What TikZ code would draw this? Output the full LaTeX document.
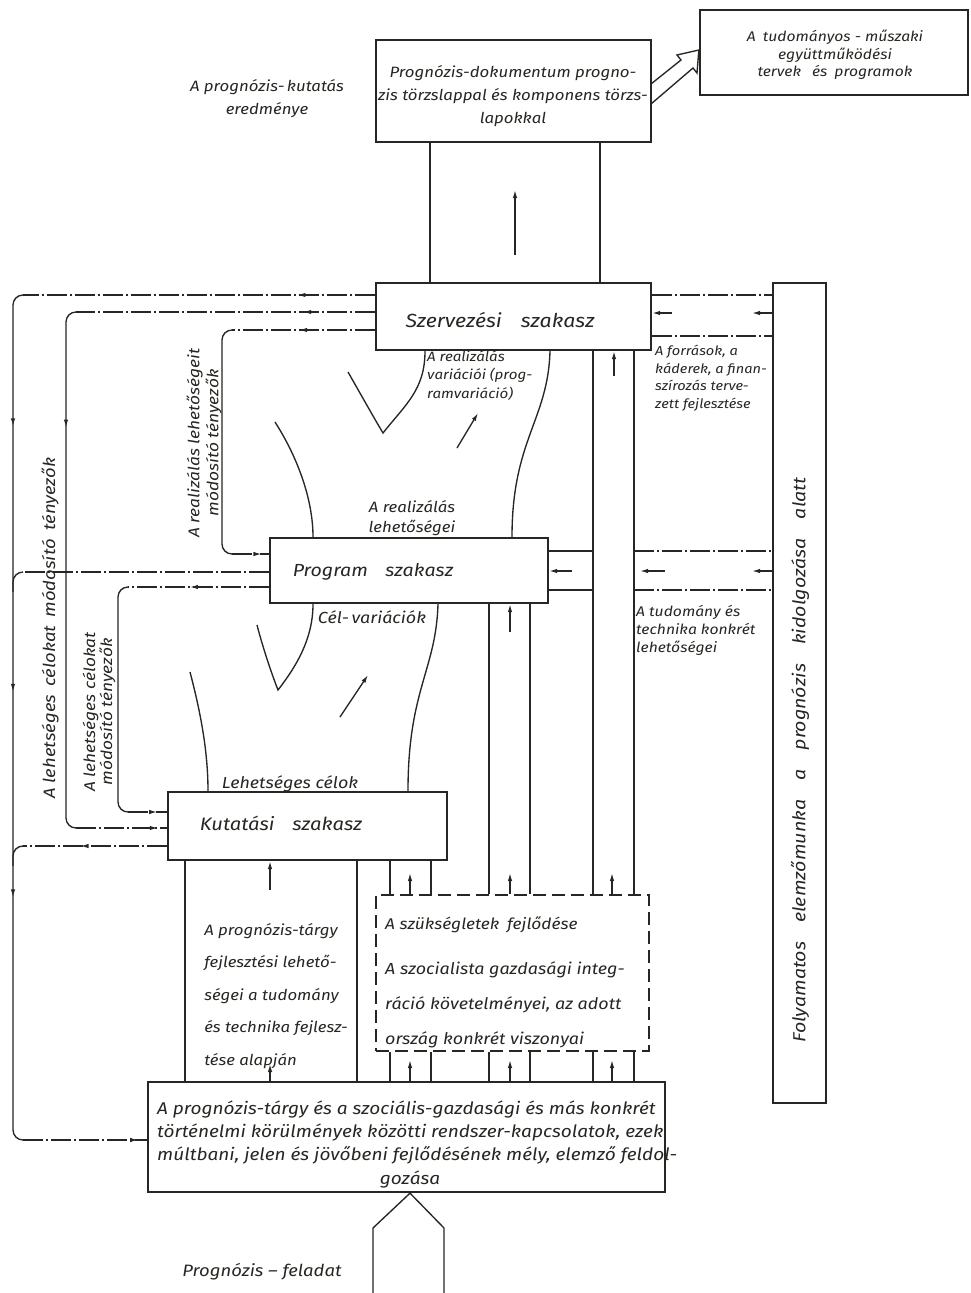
\documentclass[tikz,border=0pt]{standalone}
\usepackage{fontspec}
\setmainfont{Fira Sans}[FakeStretch=1.12]
\usetikzlibrary{arrows.meta,decorations.markings}
\definecolor{ink}{RGB}{38,38,34}
\newcommand\hfs[2]{\itshape\fontsize{#1}{#2}\selectfont}
\begin{document}
\begin{tikzpicture}[x=1pt,y=-1pt,
  box/.style={draw=ink,line width=2.3pt,inner sep=0pt},
  dbox/.style={draw=ink,line width=1.9pt,inner sep=0pt,dash pattern=on 13pt off 6pt},
  ln/.style={draw=ink,line width=1.35pt},
  dd/.style={ln,dash pattern=on 20pt off 3pt on 2pt off 3pt},
  tip/.style={-{Latex[length=8pt,width=4.5pt]}},
  ma/.style={postaction={decorate,decoration={markings,mark=at position #1 with {\arrow{Latex[length=8pt,width=4.5pt]}}}}},
  txt/.style={inner sep=0pt,text=ink,font=\hfs{15}{23}},
  rot/.style={inner sep=0pt,text=ink,rotate=90},
]
\fill[white] (0,0) rectangle (971,1293);
\useasboundingbox (0,0) rectangle (971,1293);

% ---------- boxes ----------
\node[box,minimum width=275pt,minimum height=102pt] (doc) at (513.5,91) {};
\node[box,minimum width=268pt,minimum height=85pt] (coop) at (834,52.5) {};
\node[box,minimum width=275pt,minimum height=67pt] (szerv) at (513.5,316.5) {};
\node[box,minimum width=278pt,minimum height=65pt] (prog) at (409,570.5) {};
\node[box,minimum width=279pt,minimum height=68pt] (kut) at (307.5,826) {};
\node[box,minimum width=53pt,minimum height=820pt] (tall) at (799.5,693) {};
\node[dbox,minimum width=273pt,minimum height=156pt] (needs) at (512.5,973) {};
\node[box,minimum width=517pt,minimum height=110pt] (base) at (406.5,1137) {};

% ---------- texts ----------
\node[txt,align=center] (docT) at (513,96) {Prognózis-dokumentum progno-\\zis törzslappal és komponens törzs-\\lapokkal};
\node[txt,align=center,font=\hfs{14}{17.5}] (coopT) at (835,55) {A\enspace tudományos - műszaki\\együttműködési\\tervek\enspace\ és\enspace programok};
\node[txt,align=center] (resT) at (267,99) {A prognózis-\,kutatás\\eredménye};
\node[txt,font=\hfs{19}{23}] (szervT) at (500,320) {Szervezési\quad szakasz};
\node[txt,font=\hfs{17.5}{23}] (progT) at (373,572) {Program\quad szakasz};
\node[txt,font=\hfs{18}{23}] (kutT) at (281,823) {Kutatási\quad szakasz};
\node[rot,font=\hfs{17.5}{20}] (tallT) at (800,760) {Folyamatos\hspace{14pt} elemzőmunka\hspace{14pt} a\hspace{14pt} prognózis\hspace{14pt} kidolgozása\hspace{14pt} alatt};
\node[txt,align=left,anchor=north west,font=\hfs{13}{17.5}] (forrT) at (655,345) {A források, a\\káderek, a finan-\\szírozás terve-\\zett fejlesztése};
\node[txt,align=left,anchor=north west,font=\hfs{14}{18}] (tudT) at (636,605) {A tudomány és\\technika konkrét\\lehetőségei};
\node[txt,align=left,anchor=north west,font=\hfs{13.5}{18.5}] (varT) at (427,350) {A realizálás\\variációi (prog-\\ramvariáció)};
\node[txt,align=center,font=\hfs{15}{20}] (lehT) at (412,518) {A realizálás\\lehetőségei};
\node[txt,font=\hfs{16}{20}] (celvT) at (372,617) {Cél-\,variációk};
\node[txt,font=\hfs{16}{20}] (lcT) at (290,784) {Lehetséges célok};
\node[rot,font=\hfs{16.5}{20}] (r1T) at (50,628) {A lehetséges\enspace célokat\enspace módosító\enspace tényezők};
\node[rot,align=center,font=\hfs{15.5}{17}] (r2T) at (99,712) {A lehetséges célokat\\módosító tényezők};
\node[rot,align=center,font=\hfs{15.5}{19}] (r3T) at (204,443) {A realizálás lehetőségeit\\módosító tényezők};
\node[txt,align=left,font=\hfs{15}{32.5}] (ptT) at (276,996) {A prognózis-tárgy\\fejlesztési lehető-\\ségei a tudomány\\és technika fejlesz-\\tése alapján};
\node[txt,anchor=west,font=\hfs{15.5}{23}] (needT1) at (385,925) {A szükségletek\enspace fejlődése};
\node[txt,align=left,anchor=west,font=\hfs{16}{35}] (needT2) at (385,1005) {A szocialista gazdasági integ-\\ráció követelményei, az adott\\ország konkrét viszonyai};
\node[txt,align=left,anchor=west,font=\hfs{17}{23}] (baseT) at (157,1132) {A prognózis-tárgy és a szociális-gazdasági és más konkrét\\történelmi körülmények közötti rendszer-kapcsolatok, ezek\\múltbani, jelen és jövőbeni fejlődésének mély, elemző feldol-};
\node[txt,font=\hfs{17}{23}] (baseT2) at (410,1180) {gozása};
\node[txt,font=\hfs{16.5}{23}] (feladT) at (262,1272) {Prognózis -- feladat};

% ---------- helper coordinates ----------
\foreach \v in {13,23,66,76,118,128,185,222,232,270,357,390,410,431,489,510,530,593,612,614,634,640,665,572,752,550,512,425,313,208,408,438,373,444,430,600,515}
  {\coordinate (c\v) at (\v,0);}
\foreach \v in {190,255,295,312,313,330,336,376,551,554,571,572,587,590,632,812,828,846,873,890,1060,1064,1140,1228,1293}
  {\coordinate (r\v) at (0,\v);}

% ---------- doc - szerv ----------
\draw[ln] (doc.south -| c430) -- (szerv.north -| c430);
\draw[ln] (doc.south -| c600) -- (szerv.north -| c600);
\draw[ln,tip] (c515 |- r255) -- (c515 |- r190);

% hollow arrow doc -> coop
\coordinate (ha1) at (651,84);
\coordinate (ha2) at (651,104);
\draw[ln] (ha1) -- (681,60) -- (677,55) -- (coop.west |- 0,50) -- (697,73) -- (693,68) -- (ha2);

% ---------- left feedback lines ----------
% L1
\draw[dd,ma=0.22] (szerv.west |- r295) -- (c23 |- r295);
\draw[ln,rounded corners=10pt,ma=0.16,ma=0.47,ma=0.71] (c23 |- r295) -- (c13 |- r295) -- (c13 |- r1140) -- (c23 |- r1140);
\draw[dd,ma=0.93] (c23 |- r1140) -- (base.west |- r1140);
\draw[dd] (prog.west |- r572) -- (c23 |- r572);
\draw[ln,rounded corners=10pt] (c23 |- r572) -- (c13 |- r572) -- ([yshift=-20pt]c13 |- r572);
\draw[dd,ma=0.6] (kut.west |- r846) -- (c23 |- r846);
\draw[ln,rounded corners=10pt] (c23 |- r846) -- (c13 |- r846) -- ([yshift=-20pt]c13 |- r846);
% L2
\draw[dd,ma=0.24] (szerv.west |- r312) -- (c76 |- r312);
\draw[ln,rounded corners=10pt,ma=0.23] (c76 |- r312) -- (c66 |- r312) -- (c66 |- r828) -- (c76 |- r828);
\draw[dd,ma=0.9] (c76 |- r828) -- (kut.west |- r828);
% L3
\draw[dd,ma=0.53] (szerv.west |- r330) -- (c232 |- r330);
\draw[ln,rounded corners=10pt] (c232 |- r330) -- (c222 |- r330) -- (c222 |- r554) -- (c232 |- r554);
\draw[dd,ma=0.8] (c232 |- r554) -- (prog.west |- r554);
% L4
\draw[dd,ma=0.56] (prog.west |- r587) -- (c128 |- r587);
\draw[ln,rounded corners=10pt] (c128 |- r587) -- (c118 |- r587) -- (c118 |- r812) -- (c128 |- r812);
\draw[dd,ma=0.75] (c128 |- r812) -- (kut.west |- r812);

% ---------- right side lines ----------
\draw[dd] (szerv.east |- r295) -- (tall.west |- r295);
\draw[dd] (szerv.east |- r336) -- (tall.west |- r336);
\draw[ln,tip] ([xshift=20pt]szerv.east |- r313) -- (szerv.east |- r313);
\draw[ln,tip] (tall.west |- r313) -- (c752 |- r313);
\draw[ln] (prog.east |- r551) -- (c593 |- r551);
\draw[dd] (c634 |- r551) -- (tall.west |- r551);
\draw[ln] (prog.east |- r590) -- (c593 |- r590);
\draw[dd] (c634 |- r590) -- (tall.west |- r590);
\draw[ln,tip] (c572 |- r571) -- (prog.east |- r571);
\draw[ln,tip] (c665 |- r571) -- (c640 |- r571);
\draw[ln,tip] (tall.west |- r571) -- (c752 |- r571);

% ---------- vertical channels ----------
\draw[ln] (kut.south -| c185) -- (base.north -| c185);
\draw[ln] (kut.south -| c357) -- (base.north -| c357);
\draw[ln,tip] (c270 |- r890) -- (kut.south -| c270);
\draw[ln,tip] (base.north -| c270) -- (c270 |- r1064);
\foreach \a/\b/\m/\top in {390/431/410/kut, 489/530/510/prog, 593/634/612/szerv}{
  \draw[ln] (\top.south -| c\a) -- (needs.north -| c\a);
  \draw[ln] (\top.south -| c\b) -- (needs.north -| c\b);
  \draw[ln] (needs.south -| c\a) -- (base.north -| c\a);
  \draw[ln] (needs.south -| c\b) -- (base.north -| c\b);
  \draw[ln,tip] (needs.north -| c\m) -- (c\m |- r873);
  \draw[ln,tip] (base.north -| c\m) -- (c\m |- r1060);
}
\draw[ln,tip] (c510 |- r632) -- (prog.south -| c510);
\draw[ln,tip] (c614 |- r376) -- (szerv.south -| c614);

% ---------- tree shapes ----------
\draw[ln] (szerv.south -| c550) .. controls (548,420) and (512,440) .. (prog.north -| c512);
\draw[ln] (348,372) .. controls (360,393) and (374,418) .. (383,433) .. controls (405,405) and (425,390) .. (szerv.south -| c425);
\draw[ln] (275,422) .. controls (298,458) and (313,500) .. (prog.north -| c313);
\draw[ln,tip] (457,448) -- (478,413);
\draw[ln] (257,625) .. controls (263,648) and (271,672) .. (278,690) .. controls (295,668) and (313,640) .. (prog.south -| c313);
\draw[ln] (190,672) .. controls (200,710) and (208,750) .. (kut.north -| c208);
\draw[ln] (prog.south -| c438) .. controls (436,670) and (408,690) .. (kut.north -| c408);
\draw[ln,tip] (340,717) -- (368,675);

% ---------- bottom input arrow ----------
\draw[ln] (c373 |- r1293) -- (c373 |- r1228) -- (base.south -| c410) -- (c444 |- r1228) -- (c444 |- r1293);
\end{tikzpicture}
\end{document}
